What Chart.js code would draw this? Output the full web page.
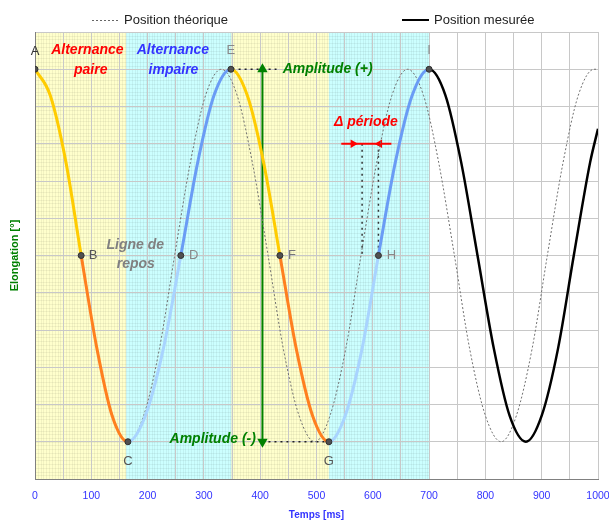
<html lang="fr">
<head>
<meta charset="UTF-8">
<title>Elongation</title>
<script src="https://cdn.jsdelivr.net/npm/chart.js@4.4.0/dist/chart.umd.min.js"></script>
<style>
  body { margin: 0; background: #fff; }
</style>
</head>
<body>
<canvas id="myChart" width="609" height="520"></canvas>
<script>
// position mesuree (ms / degres)
var tempsMesure = [0, 27, 55, 82, 110, 137, 165, 196, 228, 259, 289, 318, 348, 377, 406, 435, 464, 493, 522, 551, 581, 610, 640, 670, 700, 729, 757, 786, 815, 843, 872, 900, 929, 957, 986, 1000];
var posMesure   = [5, 4.3, 2.5, 0, -2.5, -4.3, -5, -4.3, -2.5, 0, 2.5, 4.3, 5, 4.3, 2.5, 0, -2.5, -4.3, -5, -4.3, -2.5, 0, 2.5, 4.3, 5, 4.3, 2.5, 0, -2.5, -4.3, -5, -4.3, -2.5, 0, 2.5, 3.4];

// position theorique
var tempsTheo = [0, 28, 55, 83, 110, 138, 166, 193, 221, 248, 276, 303, 331, 359, 386, 414, 441, 469, 497, 524, 552, 579, 607, 634, 662, 690, 717, 745, 772, 800, 828, 855, 883, 910, 938, 965, 993, 1000];
var posTheo   = [5, 4.3, 2.5, 0, -2.5, -4.3, -5, -4.3, -2.5, 0, 2.5, 4.3, 5, 4.3, 2.5, 0, -2.5, -4.3, -5, -4.3, -2.5, 0, 2.5, 4.3, 5, 4.3, 2.5, 0, -2.5, -4.3, -5, -4.3, -2.5, 0, 2.5, 4.3, 5, 5];

// points remarquables
var pointNoms   = ["A", "B", "C", "D", "E", "F", "G", "H", "I"];
var pointTemps  = [0, 82, 165, 259, 348, 435, 522, 610, 700];
var pointValeur = [5, 0, -5, 0, 5, 0, -5, 0, 5];

// bandes alternance paire / impaire
var bandeDebut = [0, 162, 349, 522];
var bandeFin   = [162, 349, 522, 700];

// textes
var noteTextes = ["Alternance", "paire", "Alternance", "impaire", "Ligne de", "repos", "Amplitude (+)", "Amplitude (-)", "\u0394 p\u00e9riode"];
var noteX      = [93, 99, 245, 246, 178, 179, 440, 239, 531];
var noteY      = [5.5, 4.98, 5.5, 4.98, 0.28, -0.23, 5.0, -4.93, 3.58];

// repères amplitude / periode
var ampX = [404, 404];
var ampY = [5, -5];
var pointilleHautX = [351, 429];
var pointilleBasX  = [404, 518];
var deltaX = [544, 565, 612, 633];
var deltaY = 3;
var periodeX = [581, 610];

var FONT = "Arial, 'Liberation Sans', sans-serif";
Chart.defaults.font.family = FONT;

var quartCouleurs = ["#ffcc00", "#ff7f1f", "#a8d4ff", "#6a9cf5"];
var bandeCouleurs = ["#ffffcc", "#ccffff"];

function xy(xs, ys) {
  return xs.map(function (x, i) { return { x: x, y: Array.isArray(ys) ? ys[i] : ys }; });
}

function couleurSegment(ctx) {
  var x = tempsMesure[ctx.p0DataIndex];
  for (var k = 0; k < pointTemps.length - 1; k++) {
    if (x >= pointTemps[k] && x < pointTemps[k + 1]) return quartCouleurs[k % 4];
  }
  return "#000000";
}
function largeurSegment(ctx) {
  return tempsMesure[ctx.p0DataIndex] >= pointTemps[pointTemps.length - 1] ? 2.5 : 3;
}

// fond colore + petit quadrillage
var bandes = {
  id: "bandes",
  beforeDraw: function (chart) {
    var c = chart.ctx, a = chart.chartArea, sx = chart.scales.x, sy = chart.scales.y;
    c.save();
    for (var i = 0; i < bandeDebut.length; i++) {
      var x0 = sx.getPixelForValue(bandeDebut[i]), x1 = sx.getPixelForValue(bandeFin[i]);
      c.fillStyle = bandeCouleurs[i % 2];
      c.fillRect(x0, a.top, x1 - x0, a.bottom - a.top);
      c.strokeStyle = "rgba(0,0,0,0.05)";
      c.lineWidth = 1;
      c.beginPath();
      for (var t = bandeDebut[i]; t <= bandeFin[i]; t += 5) {
        var px = Math.round(sx.getPixelForValue(t)) + 0.5;
        c.moveTo(px, a.top); c.lineTo(px, a.bottom);
      }
      for (var v = -6; v <= 6; v += 0.1) {
        var py = Math.round(sy.getPixelForValue(v)) + 0.5;
        c.moveTo(x0, py); c.lineTo(x1, py);
      }
      c.stroke();
    }
    c.restore();
  }
};

// lettres et textes
var textes = {
  id: "textes",
  afterDatasetsDraw: function (chart) {
    var c = chart.ctx, sx = chart.scales.x, sy = chart.scales.y;
    c.save();
    c.textBaseline = "middle";
    // lettres des points
    var dx = [0, 12, 0, 13, 0, 12, 0, 13, 0];
    var dy = [-18, 0, 20, 0, -19, 0, 20, 0, -19];
    var col = ["#333", "#555", "#555", "#888", "#888", "#777", "#555", "#888", "#888"];
    c.font = "13px " + FONT;
    c.textAlign = "center";
    for (var i = 0; i < pointNoms.length; i++) {
      c.fillStyle = col[i];
      c.fillText(pointNoms[i], sx.getPixelForValue(pointTemps[i]) + dx[i], sy.getPixelForValue(pointValeur[i]) + dy[i]);
    }
    var couleurs = ["#ff0000", "#ff0000", "#3333ff", "#3333ff", "#808080", "#808080", "#008000", "#008000", "#ff0000"];
    var align = ["center", "center", "center", "center", "center", "center", "left", "left", "left"];
    c.font = "italic bold 14px " + FONT;
    for (var j = 0; j < noteTextes.length; j++) {
      c.fillStyle = couleurs[j];
      c.textAlign = align[j];
      c.fillText(noteTextes[j], sx.getPixelForValue(noteX[j]), sy.getPixelForValue(noteY[j]));
    }
    c.restore();
  }
};

// legende en haut
var legende = {
  id: "legende",
  afterDraw: function (chart) {
    var c = chart.ctx;
    c.save();
    c.font = "13px " + FONT;
    c.fillStyle = "#222";
    c.textBaseline = "middle";
    c.textAlign = "left";
    c.strokeStyle = "#666";
    c.lineWidth = 1;
    c.setLineDash([2, 2]);
    c.beginPath(); c.moveTo(92, 20.5); c.lineTo(119, 20.5); c.stroke();
    c.fillText("Position th\u00e9orique", 124, 20);
    c.setLineDash([]);
    c.strokeStyle = "#000";
    c.lineWidth = 2;
    c.beginPath(); c.moveTo(402, 20); c.lineTo(429, 20); c.stroke();
    c.fillText("Position mesur\u00e9e", 434, 20);
    c.restore();
  }
};

new Chart("myChart", {
  type: "line",
  data: {
    datasets: [
      {
        label: "Points",
        data: xy(pointTemps, pointValeur),
        showLine: false,
        pointRadius: 3,
        pointBackgroundColor: "#505050",
        pointBorderColor: "#303030",
        order: 0
      },
      {
        label: "Position mesur\u00e9e",
        data: xy(tempsMesure, posMesure),
        cubicInterpolationMode: "monotone",
        borderColor: "#000",
        borderWidth: 3,
        segment: { borderColor: couleurSegment, borderWidth: largeurSegment },
        pointRadius: 0,
        order: 1
      },
      {
        label: "Position th\u00e9orique",
        data: xy(tempsTheo, posTheo),
        cubicInterpolationMode: "monotone",
        borderColor: "#707070",
        borderWidth: 1,
        borderDash: [2, 2],
        pointRadius: 0,
        order: 2
      },
      {
        label: "Amplitude",
        data: xy(ampX, ampY),
        borderColor: "#008000",
        backgroundColor: "#008000",
        borderWidth: 2,
        pointStyle: "triangle",
        pointRotation: [0, 180],
        pointRadius: 4,
        order: 3
      },
      {
        label: "ampHaut",
        data: xy(pointilleHautX, 5),
        borderColor: "#222",
        borderWidth: 1.5,
        borderDash: [2, 4],
        pointRadius: 0,
        order: 4
      },
      {
        label: "ampBas",
        data: xy(pointilleBasX, -5),
        borderColor: "#222",
        borderWidth: 1.5,
        borderDash: [2, 4],
        pointRadius: 0,
        order: 4
      },
      {
        label: "delta",
        data: xy(deltaX, deltaY),
        borderColor: "#ff0000",
        backgroundColor: "#ff0000",
        borderWidth: 2,
        pointStyle: "triangle",
        pointRotation: [0, 90, 270, 0],
        pointRadius: [0, 3, 3, 0],
        order: 4
      },
      {
        label: "per1",
        data: xy([periodeX[0], periodeX[0]], [deltaY, 0]),
        borderColor: "#333",
        borderWidth: 1.5,
        borderDash: [2, 4],
        pointRadius: 0,
        order: 5
      },
      {
        label: "per2",
        data: xy([periodeX[1], periodeX[1]], [deltaY, 0]),
        borderColor: "#333",
        borderWidth: 1.5,
        borderDash: [2, 4],
        pointRadius: 0,
        order: 5
      }
    ]
  },
  options: {
    responsive: false,
    animation: false,
    layout: { padding: { top: 32, right: 11, bottom: 0, left: 0 } },
    plugins: {
      legend: { display: false },
      tooltip: { enabled: false }
    },
    scales: {
      x: {
        type: "linear",
        min: 0,
        max: 1000,
        ticks: {
          stepSize: 50,
          autoSkip: false,
          maxRotation: 0,
          color: "#3333ff",
          padding: 11,
          font: { size: 10.5 },
          callback: function (v) { return v % 100 === 0 ? v : ""; }
        },
        grid: { color: "#c8c8c8", drawTicks: false },
        border: { color: "#808080" },
        title: {
          display: true,
          text: "Temps [ms]",
          color: "#3333ff",
          font: { size: 10, weight: "bold", lineHeight: 1 },
          padding: { top: 0, bottom: 0 }
        },
        afterFit: function (s) { s.height = 41; s.paddingLeft = 0; s.paddingRight = 0; }
      },
      y: {
        min: -6,
        max: 6,
        ticks: { display: false, stepSize: 1 },
        grid: { color: "#c8c8c8", drawTicks: false },
        border: { color: "#808080" },
        title: {
          display: true,
          text: "Elongation [\u00b0]",
          color: "#008000",
          font: { size: 11, weight: "bold" },
          padding: { top: 8, bottom: 0 }
        },
        afterFit: function (s) { s.width = 35; }
      }
    }
  },
  plugins: [bandes, textes, legende]
});
</script>
</body>
</html>
